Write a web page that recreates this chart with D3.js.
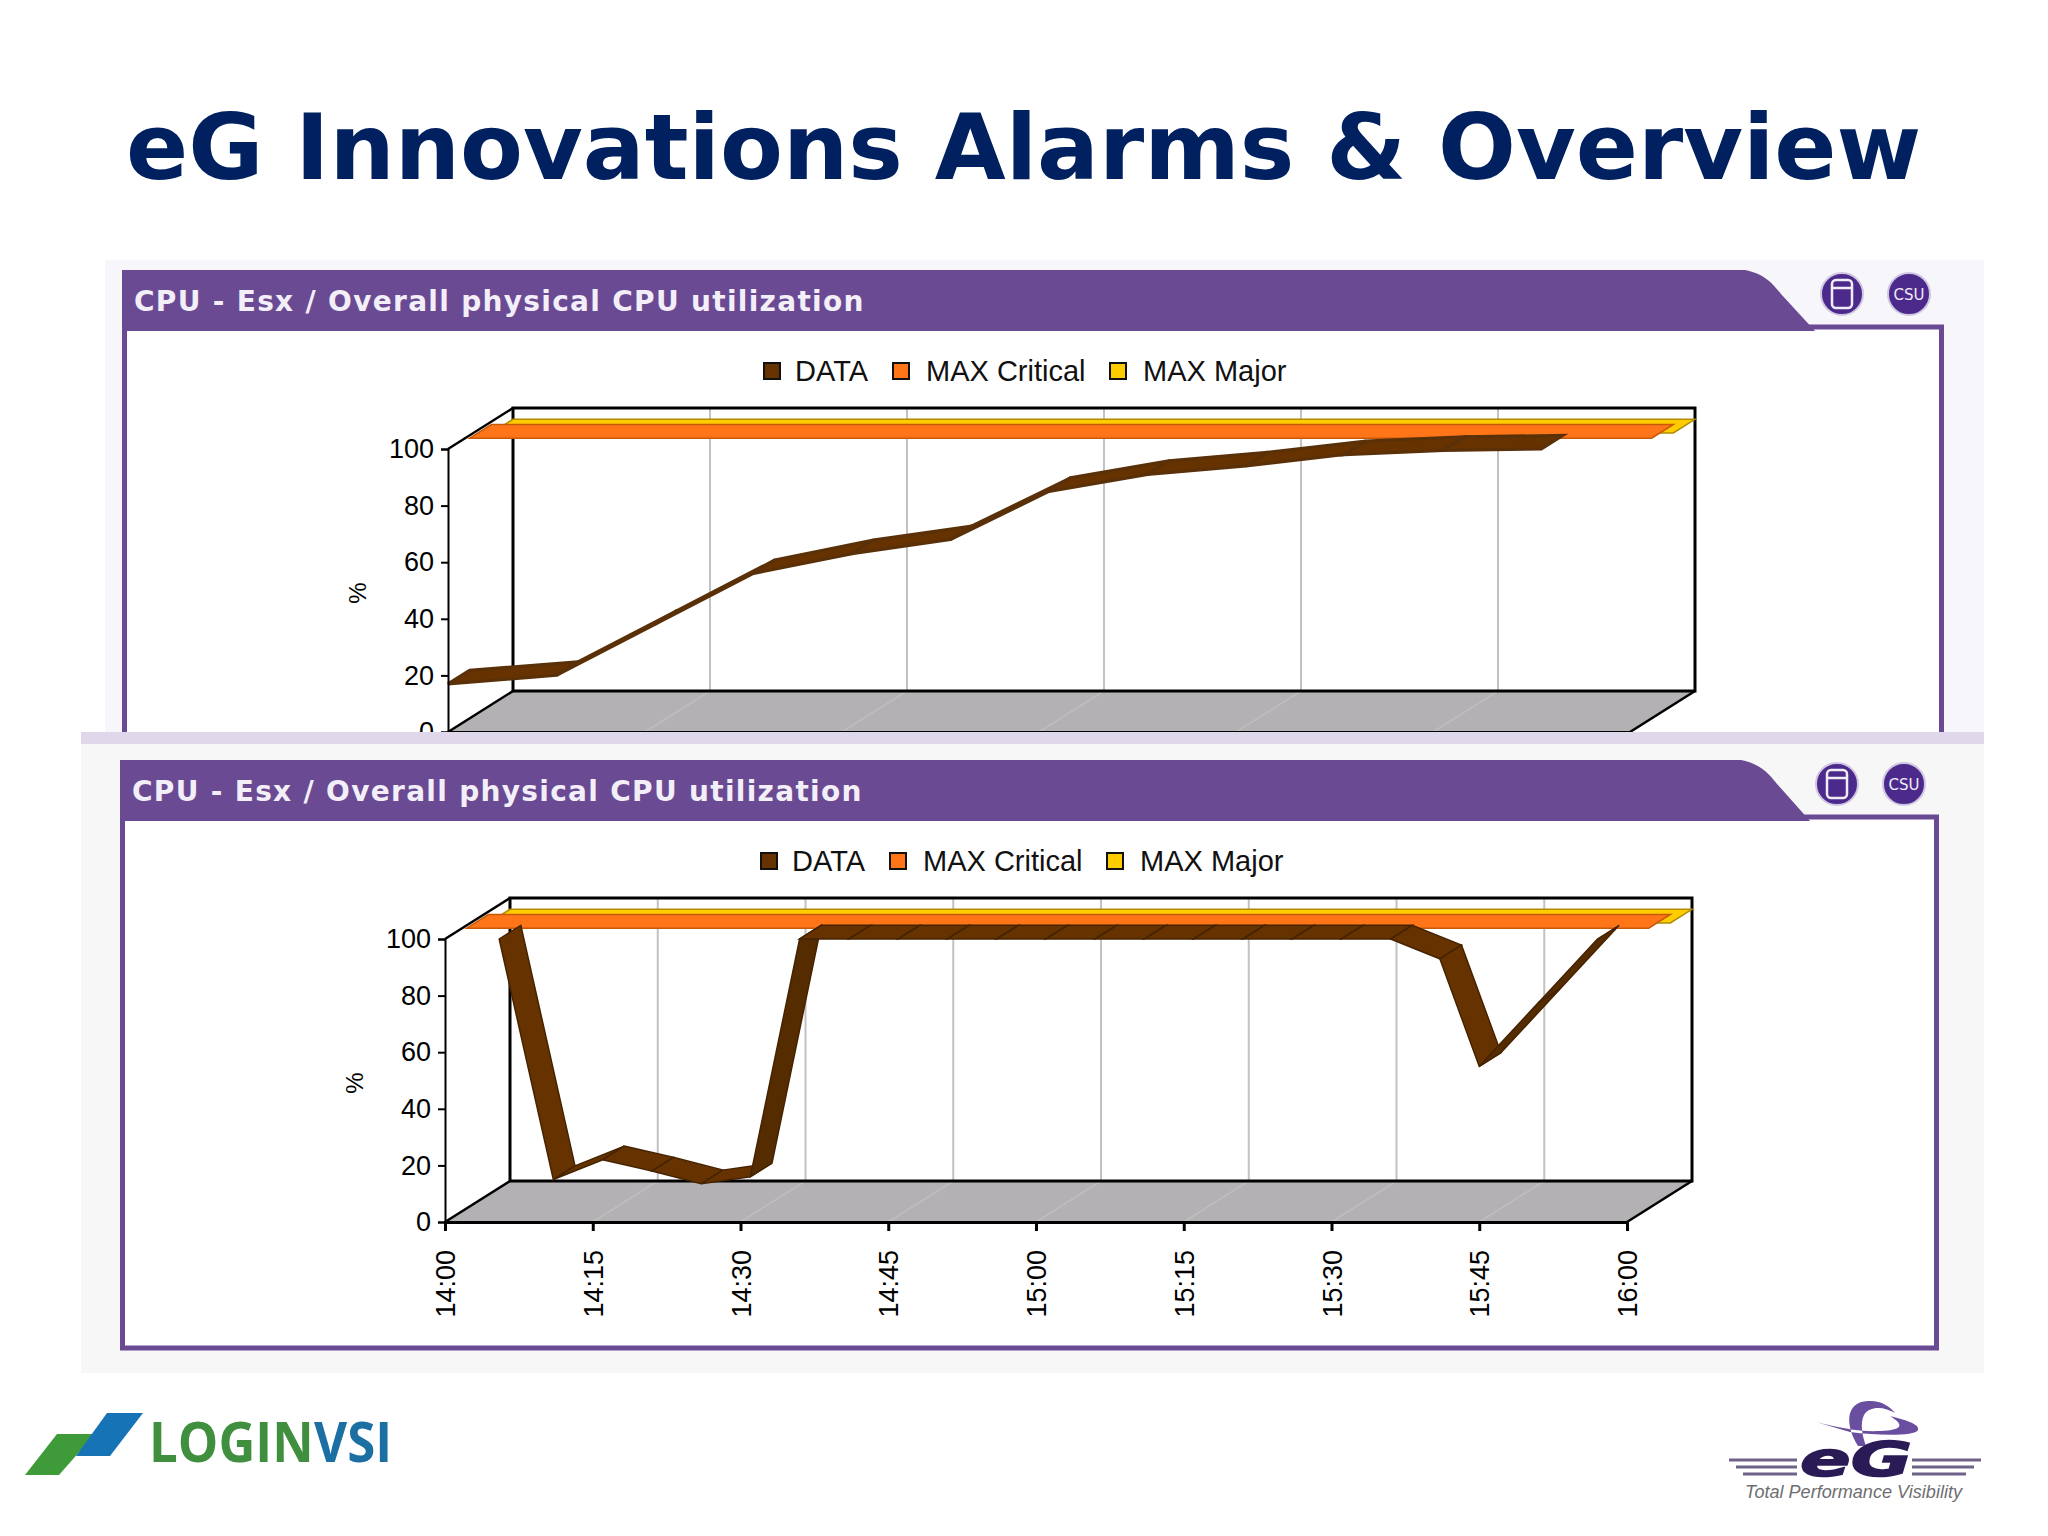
<!DOCTYPE html>
<html>
<head>
<meta charset="utf-8">
<title>eG Innovations Alarms & Overview</title>
<script src="https://cdn.jsdelivr.net/npm/d3@7"></script>
<style>
  html, body { margin: 0; padding: 0; background: #fff; }
  svg { display: block; }
</style>
</head>
<body>
<div id="main"></div>
<script>
"use strict";

// values
const pageTitle = "eG Innovations Alarms & Overview";
const chartTitle = "CPU - Esx / Overall physical CPU utilization";
const legendNames = ["DATA", "MAX Critical", "MAX Major"];
const legendColors = ["#663300", "#ff7518", "#ffcc00"];
const yTicks = [0, 20, 40, 60, 80, 100];
const xTickMinutes = [0, 15, 30, 45, 60, 75, 90, 105, 120];
const xTickLabels = ["14:00", "14:15", "14:30", "14:45", "15:00", "15:15", "15:30", "15:45", "16:00"];
const maxCritical = 99;
const maxMajor = 96;

// minutes after 14:00 and the % value of the first chart (its time axis is cut off, grid every 20 min)
const topGridMinutes = [0, 20, 40, 60, 80, 100, 120];
const topMinutes = [0, 11, 21, 31, 41, 51, 61, 71, 81, 91, 101, 111];
const topValues = [17, 20, 38, 56, 63, 68, 85, 91, 94, 98, 99.5, 100];

// second chart
const bottomMinutes = [5.5, 11, 16, 21, 26, 31, 36, 41, 46, 51, 56, 61, 66, 71, 76, 81, 86, 91, 96, 101, 105, 111, 117];
const bottomValues = [100, 15, 22, 18, 13.5, 16, 100, 100, 100, 100, 100, 100, 100, 100, 100, 100, 100, 100, 100, 93, 55, 77.5, 100];

const width = 2048;
const height = 1536;
const purple = "#6b4a94";

function main() {
    const svg = d3.select("#main").append("svg")
        .attr("width", width)
        .attr("height", height)
        .attr("viewBox", `0 0 ${width} ${height}`);

    svg.append("text")
        .attr("x", 126).attr("y", 179)
        .attr("font-family", "'DejaVu Sans'")
        .attr("font-weight", "bold")
        .attr("font-size", 91.7)
        .attr("fill", "#002060")
        .text(pageTitle);

    // top chart, cut off by the second screenshot pasted over it
    svg.append("rect").attr("x", 105).attr("y", 260).attr("width", 1879).attr("height", 475).attr("fill", "#f7f6fa");
    svg.append("clipPath").attr("id", "topClip")
        .append("rect").attr("x", 0).attr("y", 0).attr("width", width).attr("height", 732);
    const topGroup = svg.append("g").attr("clip-path", "url(#topClip)");
    drawPanel(topGroup, { left: 122, top: 270, right: 1944, bottom: 800, tabLeft: 1745, tabRight: 1815 });
    drawChart(topGroup, { x0: 448, y0: 732, minutes: topMinutes, values: topValues, grid: topGridMinutes, showTime: false });

    // second screenshot
    svg.append("rect").attr("x", 81).attr("y", 732).attr("width", 1903).attr("height", 12).attr("fill", "#ded8ea");
    svg.append("rect").attr("x", 81).attr("y", 744).attr("width", 1903).attr("height", 629).attr("fill", "#f7f7f7");
    const bottomGroup = svg.append("g");
    drawPanel(bottomGroup, { left: 120, top: 760, right: 1939, bottom: 1350, tabLeft: 1741, tabRight: 1810 });
    drawChart(bottomGroup, { x0: 445, y0: 1222, minutes: bottomMinutes, values: bottomValues, grid: xTickMinutes, showTime: true });

    drawLoginLogo(svg);
    drawEgLogo(svg);
}

function drawPanel(g, p) {
    const headerBottom = p.top + 61;
    // white body with the purple outline
    g.append("rect")
        .attr("x", p.left + 2.5).attr("y", headerBottom - 4)
        .attr("width", p.right - p.left - 5).attr("height", p.bottom - headerBottom + 2)
        .attr("fill", "#fff")
        .attr("stroke", purple).attr("stroke-width", 5);
    // header tab
    g.append("path")
        .attr("d", `M${p.left},${p.top} L${p.tabLeft},${p.top}
            C${p.tabLeft + 20},${p.top + 4} ${p.tabLeft + 28},${p.top + 14} ${p.tabLeft + 36},${p.top + 24}
            L${p.tabRight},${headerBottom} L${p.left},${headerBottom} Z`)
        .attr("fill", purple);
    g.append("text")
        .attr("x", p.left + 12).attr("y", p.top + 41)
        .attr("font-family", "'DejaVu Sans'")
        .attr("font-weight", "bold")
        .attr("font-size", 28)
        .attr("letter-spacing", 1.3)
        .attr("fill", "#f3eff8")
        .text(chartTitle);

    // the two round buttons
    const btnY = p.top + 24;
    const dbX = p.right - 102;
    const csvX = p.right - 35;
    g.append("g").selectAll("circle")
        .data([dbX, csvX])
        .join("circle")
        .attr("cx", d => d).attr("cy", btnY).attr("r", 21)
        .attr("fill", "#4c2a8c")
        .attr("stroke", "#cfc6e2").attr("stroke-width", 2);
    g.append("rect")
        .attr("x", dbX - 10).attr("y", btnY - 14).attr("width", 20).attr("height", 28).attr("rx", 4)
        .attr("fill", "none").attr("stroke", "#f1edf8").attr("stroke-width", 2.5);
    g.append("line")
        .attr("x1", dbX - 10).attr("x2", dbX + 10).attr("y1", btnY - 6).attr("y2", btnY - 6)
        .attr("stroke", "#f1edf8").attr("stroke-width", 2.5);
    g.append("text")
        .attr("x", csvX).attr("y", btnY + 6)
        .attr("text-anchor", "middle")
        .attr("font-family", "'DejaVu Sans'")
        .attr("font-size", 15)
        .attr("fill", "#f1edf8")
        .text("CSU");
}

function drawChart(g, c) {
    const depthX = 65;
    const depthY = -41;
    const plotWidth = 1182;
    const plotHeight = 283;

    const x = d3.scaleLinear().domain([0, 120]).range([c.x0, c.x0 + plotWidth]);
    const y = d3.scaleLinear().domain([0, 100]).range([c.y0, c.y0 - plotHeight]);
    // position in the fake 3d box, z goes from front (0) to back (1)
    const px = (t, z) => x(t) + z * depthX;
    const py = (v, z) => y(v) + z * depthY;
    const pts = list => list.map(d => d.join(",")).join(" ");

    // back wall
    g.append("rect")
        .attr("x", px(0, 1)).attr("y", py(100, 1))
        .attr("width", plotWidth).attr("height", plotHeight)
        .attr("fill", "#fff");

    g.append("g").selectAll("line")
        .data(c.grid.slice(1, -1))
        .join("line")
        .attr("x1", d => px(d, 1)).attr("x2", d => px(d, 1))
        .attr("y1", py(100, 1)).attr("y2", py(0, 1))
        .attr("stroke", "#c2c2c2").attr("stroke-width", 2);

    // floor
    g.append("polygon")
        .attr("points", pts([[px(0, 0), py(0, 0)], [px(120, 0), py(0, 0)], [px(120, 1), py(0, 1)], [px(0, 1), py(0, 1)]]))
        .attr("fill", "#b3b1b3");
    g.append("g").selectAll("line")
        .data(c.grid.slice(1, -1))
        .join("line")
        .attr("x1", d => px(d, 0)).attr("x2", d => px(d, 1))
        .attr("y1", py(0, 0)).attr("y2", py(0, 1))
        .attr("stroke", "#bfbdbf").attr("stroke-width", 1.5);

    g.append("rect")
        .attr("x", px(0, 1)).attr("y", py(100, 1))
        .attr("width", plotWidth).attr("height", plotHeight)
        .attr("fill", "none")
        .attr("stroke", "#000").attr("stroke-width", 3);

    // box edges going from the front to the back
    g.append("g").selectAll("line")
        .data([[0, 100], [0, 0], [120, 0]])
        .join("line")
        .attr("x1", d => px(d[0], 0)).attr("y1", d => py(d[1], 0))
        .attr("x2", d => px(d[0], 1)).attr("y2", d => py(d[1], 1))
        .attr("stroke", "#000").attr("stroke-width", 2.5);

    // threshold ribbons, back one first
    drawRibbon(g, px, py, [0, 120], [maxMajor, maxMajor], 2 / 3, 1, legendColors[2], "#b08c00", 1.5);
    drawRibbon(g, px, py, [0, 120], [maxCritical, maxCritical], 1 / 3, 2 / 3, legendColors[1], "#c65a08", 1.5);
    // the first chart's thin rising stretch needs a wider edge to look like the screenshot
    drawRibbon(g, px, py, c.minutes, c.values, 0, 1 / 3, legendColors[0],
        c.showTime ? "#452300" : "#5a3008", c.showTime ? 1.5 : 3);

    // axes
    const yAxis = g.append("g")
        .attr("transform", `translate(${c.x0},0)`)
        .call(d3.axisLeft(y).tickValues(yTicks).tickSize(7).tickPadding(7));
    const xAxis = g.append("g")
        .attr("transform", `translate(0,${c.y0})`)
        .call(d3.axisBottom(x).tickValues(c.showTime ? xTickMinutes : c.grid).tickSize(c.showTime ? 9 : 0)
            .tickFormat(d => c.showTime ? xTickLabels[xTickMinutes.indexOf(d)] : ""));
    yAxis.selectAll("text").attr("font-size", 27);
    yAxis.attr("font-family", "'Liberation Sans'");
    yAxis.selectAll(".domain, line").attr("stroke", "#000").attr("stroke-width", 2);
    xAxis.attr("font-family", "'Liberation Sans'");
    xAxis.selectAll(".domain, line").attr("stroke", "#000").attr("stroke-width", 3);
    xAxis.selectAll("text")
        .attr("font-size", 27)
        .attr("text-anchor", "end")
        .attr("transform", "rotate(-90)")
        .attr("x", -28)
        .attr("y", 0)
        .attr("dy", "0.36em");

    g.append("text")
        .attr("transform", `translate(${c.x0 - 82},${c.y0 - 139}) rotate(-90)`)
        .attr("text-anchor", "middle")
        .attr("font-family", "'Liberation Sans'")
        .attr("font-size", 24)
        .text("%");

    // legend
    const legendX = [c.x0 + 316, c.x0 + 445, c.x0 + 662];
    const legendY = c.y0 - plotHeight - 78;
    const legend = g.append("g").selectAll("g")
        .data(legendNames)
        .join("g")
        .attr("transform", (d, i) => `translate(${legendX[i]},${legendY})`);
    legend.append("rect")
        .attr("x", 0).attr("y", -8)
        .attr("width", 16).attr("height", 16)
        .attr("fill", (d, i) => legendColors[i])
        .attr("stroke", "#111").attr("stroke-width", 2);
    legend.append("text")
        .attr("x", (d, i) => i === 0 ? 31 : 33).attr("y", 10)
        .attr("font-family", "'Liberation Sans'")
        .attr("font-size", 29)
        .attr("fill", "#111")
        .text(d => d);
}

// one quad per pair of points between depth z0 and z1
function drawRibbon(g, px, py, minutes, values, z0, z1, fill, edge, edgeWidth) {
    const segments = d3.pairs(d3.zip(minutes, values));
    g.append("g").selectAll("polygon")
        .data(segments)
        .join("polygon")
        .attr("points", ([a, b]) => [
            [px(a[0], z0), py(a[1], z0)],
            [px(b[0], z0), py(b[1], z0)],
            [px(b[0], z1), py(b[1], z1)],
            [px(a[0], z1), py(a[1], z1)]
        ].map(d => d.join(",")).join(" "))
        // a rising stretch shows its darker underside
        .attr("fill", ([a, b]) => b[1] - a[1] > 8 ? d3.color(fill).darker(0.5) : fill)
        .attr("stroke", edge)
        .attr("stroke-width", edgeWidth);
}

function drawLoginLogo(svg) {
    const g = svg.append("g");
    g.append("polygon").attr("points", "25,1475 59,1475 95,1434 57,1434").attr("fill", "#3f9a3a");
    g.append("polygon").attr("points", "76,1456 107,1413 143,1413 110,1456").attr("fill", "#1673b5");
    const labels = [["LOGIN", 149, "#3f8f3f"], ["VSI", 314, "#1c6fa3"]];
    g.append("g").selectAll("text")
        .data(labels)
        .join("text")
        .attr("transform", d => `translate(${d[1]},1462) scale(1,1.1)`)
        .attr("font-family", "'Open Sans'")
        .attr("font-weight", "bold")
        .attr("font-size", 51)
        .attr("fill", d => d[2])
        .text(d => d[0]);
}

function drawEgLogo(svg) {
    const g = svg.append("g");
    g.append("path")
        .attr("d", `M1858,1446 C1845,1425 1845,1402 1868,1401 C1880,1400 1890,1406 1895,1413
            C1885,1407 1870,1405 1864,1415 C1860,1423 1862,1435 1866,1446 Z
            M1816,1422 L1850,1432 C1880,1436 1915,1436 1918,1430 C1920,1424 1905,1420 1890,1416
            C1903,1424 1905,1430 1880,1431 C1860,1432 1840,1428 1816,1422 Z`)
        .attr("fill", "#6a4fa0");
    const stripes = [[1729, 1797, 1460], [1736, 1797, 1467], [1743, 1797, 1474], [1912, 1981, 1460], [1912, 1974, 1467], [1912, 1966, 1474]];
    g.append("g").selectAll("line")
        .data(stripes)
        .join("line")
        .attr("x1", d => d[0]).attr("x2", d => d[1])
        .attr("y1", d => d[2]).attr("y2", d => d[2])
        .attr("stroke", "#6f6289").attr("stroke-width", 3);
    g.append("text")
        .attr("x", 1800).attr("y", 1476)
        .attr("font-family", "'DejaVu Sans'")
        .attr("font-weight", "bold")
        .attr("font-style", "italic")
        .attr("font-size", 48)
        .attr("textLength", 112)
        .attr("lengthAdjust", "spacingAndGlyphs")
        .attr("stroke", "#2a1a55").attr("stroke-width", 1.5)
        .attr("fill", "#2a1a55")
        .text("eG");
    g.append("text")
        .attr("x", 1745).attr("y", 1498)
        .attr("font-family", "'Liberation Sans'")
        .attr("font-style", "italic")
        .attr("font-size", 18)
        .attr("textLength", 217)
        .attr("lengthAdjust", "spacingAndGlyphs")
        .attr("fill", "#6e6e72")
        .text("Total Performance Visibility");
}

main();
</script>
</body>
</html>
